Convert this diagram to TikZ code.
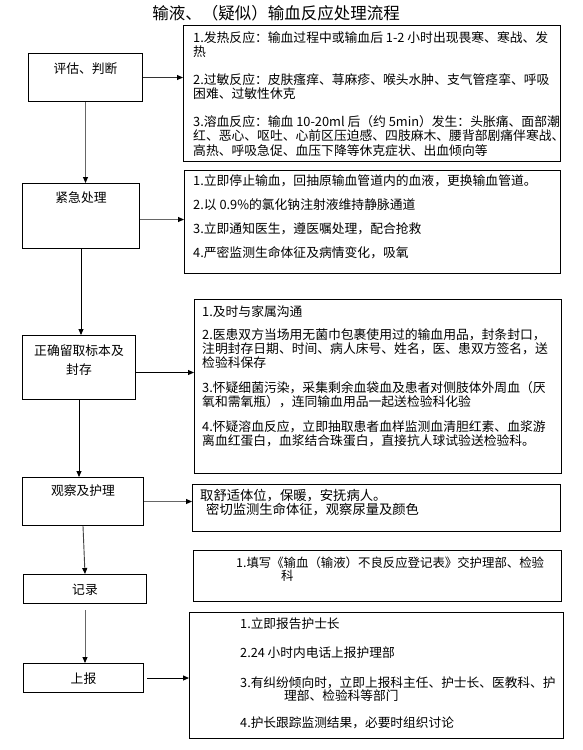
\documentclass[tikz,border=0pt]{standalone}
\usepackage{fontspec}
\setmainfont{Noto Sans CJK SC}
\usetikzlibrary{arrows.meta}

\tikzset{
  leftbox/.style={draw, line width=1pt, inner sep=0pt, anchor=north west, align=center, font=\fontsize{12.8}{19}\selectfont},
  rightbox/.style={draw, line width=1pt, inner sep=0pt, anchor=north west},
  boxtext/.style={inner sep=0pt, anchor=north west, align=left, font=\fontsize{12.8}{14.4}\selectfont},
  link/.style={line width=0.9pt, -{Triangle[length=6pt,width=5pt,color=black]}}
}

\begin{document}
\begin{tikzpicture}[x=1pt, y=-1pt]
\useasboundingbox (0,0) rectangle (583,750);
% Titre
\node[font=\fontsize{16.5}{18}\selectfont] (title) at (276,13) {输液、（疑似）输血反应处理流程};

% Colonne de gauche
\node[leftbox, minimum width=114pt, text height=20pt, text depth=28pt] (assess) at (28,53) {评估、判断};
\node[leftbox, minimum width=117pt, text height=19pt, text depth=46pt] (emerg) at (22,183) {紧急处理};
\node[leftbox, minimum width=113pt, text height=39pt, text depth=25pt] (store) at (22,335) {正确留取标本及\\封存};
\node[leftbox, minimum width=121pt, text height=18pt, text depth=30pt] (observe) at (22,477) {观察及护理};
\node[leftbox, minimum width=123pt, text height=20pt, text depth=9pt] (record) at (23,574) {记录};
\node[leftbox, minimum width=120pt, text height=20pt, text depth=9pt] (report) at (23,663) {上报};

% Colonne de droite
\node[rightbox, minimum width=377pt, minimum height=136pt] (fever) at (183,25) {};
\node[boxtext] (fevertxt) at (193,31.2) {1.发热反应：输血过程中或输血后 1-2 小时出现畏寒、寒战、发\\热\\[13.5pt]
  2.过敏反应：皮肤瘙痒、荨麻疹、喉头水肿、支气管痉挛、呼吸\\困难、过敏性休克\\[13pt]
  3.溶血反应：输血 10-20ml 后（约 5min）发生：头胀痛、面部潮\\红、恶心、呕吐、心前区压迫感、四肢麻木、腰背部剧痛伴寒战、\\高热、呼吸急促、血压下降等休克症状、出血倾向等};

\node[rightbox, minimum width=376pt, minimum height=103pt] (aid) at (184,170) {};
\node[boxtext, font=\fontsize{12.8}{24}\selectfont] (aidtxt) at (193,174.2) {1.立即停止输血，回抽原输血管道内的血液，更换输血管道。\\
  2.以 0.9\%的氯化钠注射液维持静脉通道\\3.立即通知医生，遵医嘱处理，配合抢救\\4.严密监测生命体征及病情变化，吸氧};

\node[rightbox, minimum width=367pt, minimum height=174pt] (keep) at (194,299) {};
\node[boxtext, font=\fontsize{12.8}{14}\selectfont] (keeptxt) at (202,305.2) {1.及时与家属沟通\\[9pt]
  2.医患双方当场用无菌巾包裹使用过的输血用品，封条封口，\\注明封存日期、时间、病人床号、姓名，医、患双方签名，送\\检验科保存\\[11pt]
  3.怀疑细菌污染，采集剩余血袋血及患者对侧肢体外周血（厌\\氧和需氧瓶），连同输血用品一起送检验科化验\\[11pt]
  4.怀疑溶血反应，立即抽取患者血样监测血清胆红素、血浆游\\离血红蛋白，血浆结合珠蛋白，直接抗人球试验送检验科。};

\node[rightbox, minimum width=368pt, minimum height=47pt] (care) at (192,484) {};
\node[boxtext, font=\fontsize{13.3}{11}\selectfont] (caretxt) at (200,489) {取舒适体位，保暖，安抚病人。\\\hspace*{6pt}密切监测生命体征，观察尿量及颜色};

\node[rightbox, minimum width=368pt, minimum height=51pt] (form) at (193,550) {};
\node[boxtext, font=\fontsize{12.4}{13}\selectfont] (formtxt) at (236,556.4) {1.填写《输血（输液）不良反应登记表》交护理部、检验\\\hspace*{45pt}科};

\node[rightbox, minimum width=374pt, minimum height=126pt] (notify) at (189,612) {};
\node[boxtext, font=\fontsize{12.7}{12}\selectfont] (notifytxt) at (240,617.2) {1.立即报告护士长\\[17pt]
  2.24 小时内电话上报护理部\\[18pt]
  3.有纠纷倾向时，立即上报科主任、护士长、医教科、护\\\hspace*{44pt}理部、检验科等部门\\[15pt]
  4.护长跟踪监测结果，必要时组织讨论};

% Flèches
\draw[link, black!80] (assess.east) -- (assess.east -| fever.west);
\draw[link, black!60] (assess.south) -- (assess.south |- emerg.north);
\draw[link, black!60] ([yshift=-3.5pt]emerg.east) -- ([yshift=-3.5pt]emerg.east -| aid.west);
\draw[link] (emerg.south) -- (emerg.south |- store.north);
\draw[link] ([yshift=-5pt]store.east) -- ([yshift=-5pt]store.east -| keep.west);
\draw[link] (store.south) -- (store.south |- observe.north);
\draw[link, black!60] (observe.east) -- (observe.east -| care.west);
\draw[link, black!75] (observe.south) -- (record.north);
\draw[link, black!60] ([yshift=-6pt]record.south) -- (record.south |- report.north);
\draw[link] ([xshift=3pt]report.east) -- (report.east -| notify.west);
\end{tikzpicture}
\end{document}
